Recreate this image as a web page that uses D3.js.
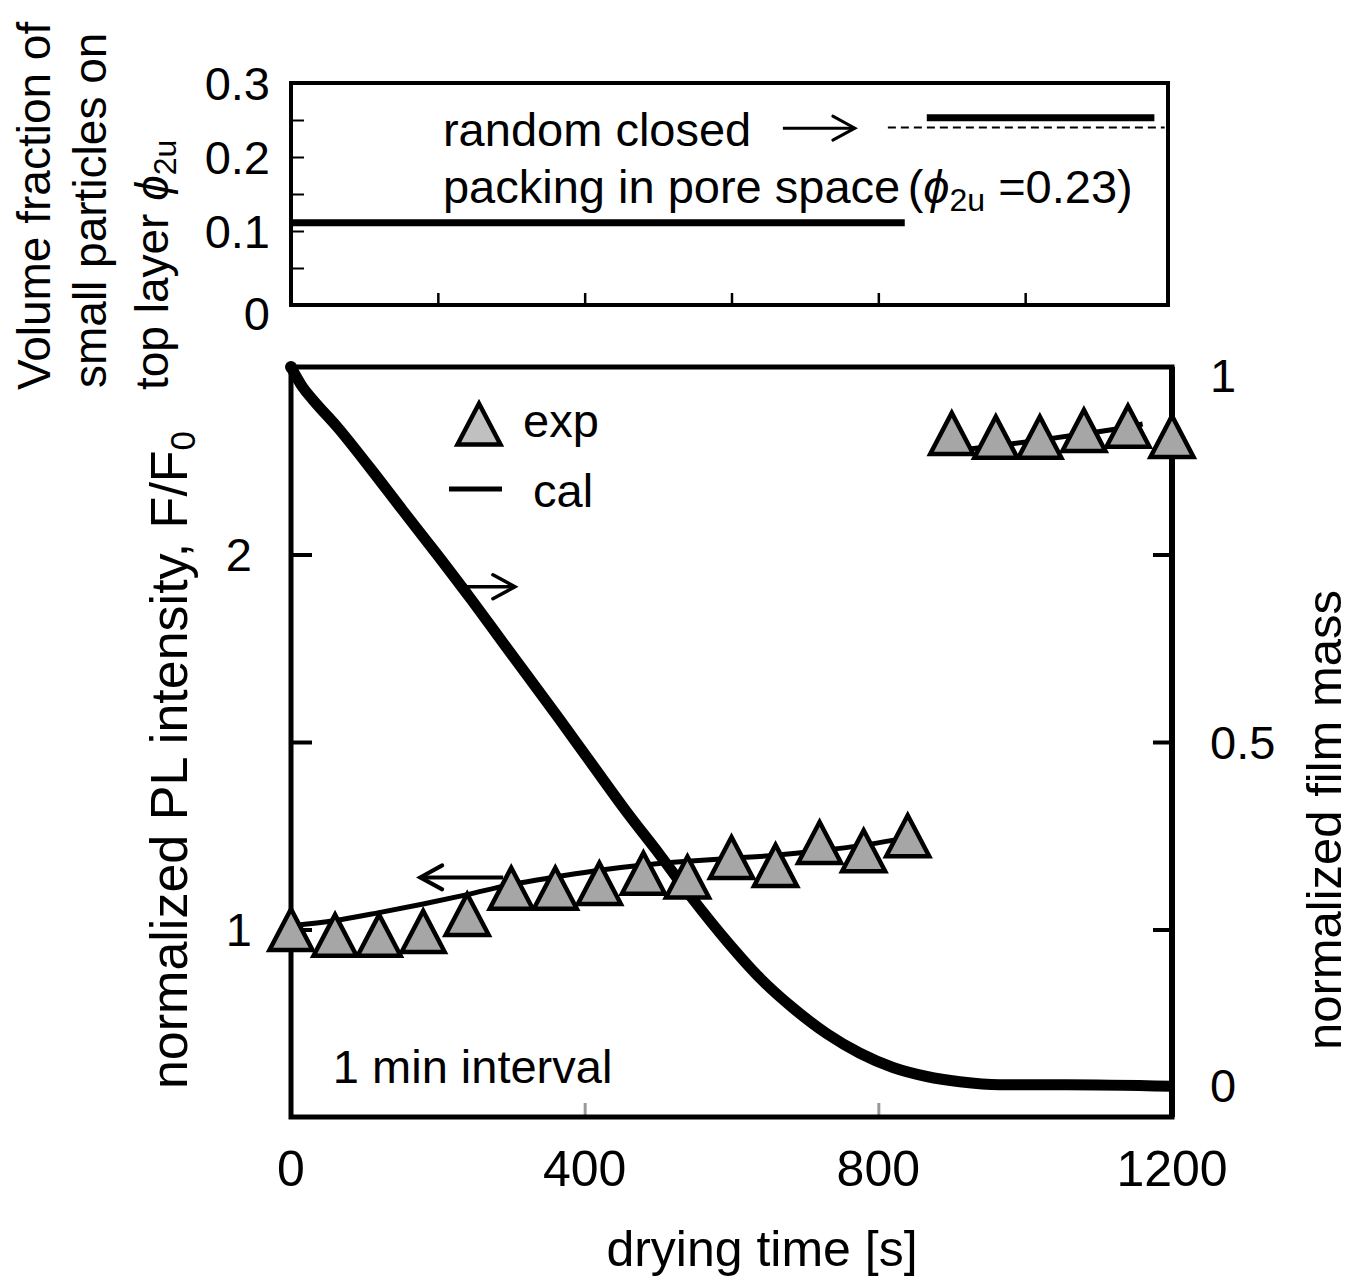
<!DOCTYPE html>
<html lang="en">
<head>
<meta charset="UTF-8">
<title>PL intensity and film mass during drying</title>
<style>
  body { margin: 0; background: #fff; }
  svg text { font-family: "Liberation Sans", Arial, sans-serif; fill: #000; }
</style>
</head>
<body>
<svg width="1354" height="1283"></svg>
<script src="https://d3js.org/d3.v7.min.js"></script>
<script>
// ---- data ----
// measured PL, one reading per minute
var expTime = [0, 60, 120, 180, 240, 300, 360, 420, 480, 540, 600, 660, 720, 780, 840,
               900, 960, 1020, 1080, 1140, 1200];
var expPL = [1.0, 0.985, 0.985, 0.995, 1.04, 1.11, 1.11, 1.123, 1.15, 1.14, 1.192, 1.171, 1.232, 1.21, 1.25,
             2.323, 2.313, 2.313, 2.331, 2.342, 2.315];

// calculated PL (two branches)
var calTimeA = [0, 60, 120, 180, 240, 300, 360, 420, 480, 540, 600, 660, 720, 780, 840];
var calPLA = [1.01, 1.024, 1.045, 1.068, 1.093, 1.12, 1.14, 1.158, 1.172, 1.182, 1.19, 1.198, 1.21, 1.225, 1.245];
var calTimeB = [900, 960, 1020, 1080, 1140, 1160];
var calPLB = [2.275, 2.29, 2.305, 2.322, 2.34, 2.348];

// calculated normalized film mass (right axis)
var massTime = [0, 16, 30, 63, 108, 152, 199, 244, 289, 366, 411, 457, 502, 547, 594, 639, 683, 730,
                775, 820, 866, 911, 965, 1056, 1200];
var massVal = [1.0, 0.973, 0.956, 0.92, 0.865, 0.809, 0.75, 0.692, 0.632, 0.53, 0.469, 0.407, 0.35,
               0.291, 0.234, 0.185, 0.146, 0.111, 0.085, 0.066, 0.054, 0.047, 0.043, 0.043, 0.041];

// volume fraction of small particles on top layer (top panel)
var phiTimeA = [0, 836], phiA = [0.111, 0.111];
var phiTimeB = [866, 1176], phiB = [0.253, 0.253];
var rcpTime = [813, 1190], rcpPhi = [0.24, 0.24];

var xTicks = [0, 400, 800, 1200];
var xTicksTop = [200, 400, 600, 800, 1000];
var leftTicks = [1, 1.5, 2], leftLabels = [1, 2];
var rightTicks = [0.25, 0.5, 0.75], rightLabels = [0, 0.5, 1];
var topTicks = [0.05, 0.1, 0.15, 0.2, 0.25], topLabels = [0, 0.1, 0.2, 0.3];

// ---- layout ----
var svg = d3.select("svg");
var L = 291, R = 1172, T = 367, B = 1117;
var tT = 83, tB = 305;

var x = d3.scaleLinear().domain([0, 1200]).range([L, R]);
var y = d3.scaleLinear().domain([0.5, 2.5]).range([B, T]);
var y2 = d3.scaleLinear().domain([0, 1]).range([B, T]);
var yt = d3.scaleLinear().domain([0, 0.3]).range([tB, tT]);

function lineOf(xs, ys, sy) {
  return d3.line().x(function(d, i) { return x(xs[i]); }).y(function(d, i) { return sy(ys[i]); })(xs);
}

function arrow(g, x0, x1, yy, w) {
  var dir = x1 > x0 ? 1 : -1;
  g.append("line").attr("x1", x0).attr("x2", x1).attr("y1", yy).attr("y2", yy)
    .attr("stroke", "#000").attr("stroke-width", w);
  g.append("path").attr("d", "M" + (x1 - dir * 22) + "," + (yy - 12) + "L" + x1 + "," + yy + "L" + (x1 - dir * 22) + "," + (yy + 12))
    .attr("fill", "none").attr("stroke", "#000").attr("stroke-width", w).attr("stroke-linecap", "round");
}

// ---- top panel ----
var topG = svg.append("g");
topG.append("g").attr("transform", "translate(" + L + ",0)")
  .call(d3.axisRight(yt).tickValues(topTicks).tickSize(13).tickFormat(""))
  .call(function(g) { g.select(".domain").remove(); g.selectAll("line").attr("stroke-width", 2); });
topG.append("g").attr("transform", "translate(0," + tB + ")")
  .call(d3.axisTop(x).tickValues(xTicksTop).tickSize(12).tickFormat(""))
  .call(function(g) { g.select(".domain").remove(); g.selectAll("line").attr("stroke-width", 2.5); });
topG.append("rect").attr("x", L).attr("y", tT).attr("width", R - 4 - L).attr("height", tB - tT)
  .attr("fill", "none").attr("stroke", "#000").attr("stroke-width", 4);

topG.selectAll("text.tl").data(topLabels).enter().append("text")
  .attr("x", 270).attr("y", function(d) { return yt(d) + (d === 0 ? 8 : 0); })
  .attr("dy", "0.36em").attr("text-anchor", "end").attr("font-size", 47)
  .text(function(d) { return d; });

topG.append("path").attr("d", lineOf(phiTimeA, phiA, yt)).attr("stroke", "#000").attr("stroke-width", 7);
topG.append("path").attr("d", lineOf(phiTimeB, phiB, yt)).attr("stroke", "#000").attr("stroke-width", 7);
topG.append("path").attr("d", lineOf(rcpTime, rcpPhi, yt)).attr("stroke", "#000").attr("stroke-width", 2)
  .attr("stroke-dasharray", "8,5");

topG.append("text").attr("x", x(207)).attr("y", 146).attr("font-size", 47).text("random closed");
topG.append("text").attr("x", x(207)).attr("y", 203).attr("font-size", 47).text("packing in pore space");
var eq = topG.append("text").attr("x", x(840)).attr("y", 203).attr("font-size", 47);
eq.append("tspan").text("(");
eq.append("tspan").attr("font-style", "italic").text("ϕ");
eq.append("tspan").attr("font-size", 32).attr("dy", 8).text("2u");
eq.append("tspan").attr("dy", -8).text(" =0.23)");

arrow(topG, x(670), x(768), yt(0.239), 3);

// top panel title
var tt = svg.append("g").attr("font-size", 46);
tt.append("text").attr("transform", "translate(50,390) rotate(-90)").text("Volume fraction of");
tt.append("text").attr("transform", "translate(106,388) rotate(-90)").text("small particles on");
var l3 = tt.append("text").attr("transform", "translate(168,390) rotate(-90)");
l3.append("tspan").text("top layer  ");
l3.append("tspan").attr("font-style", "italic").text("ϕ");
l3.append("tspan").attr("font-size", 32).attr("dy", 8).text("2u");

// ---- main panel ----
var main = svg.append("g");
main.append("g").attr("transform", "translate(" + L + ",0)")
  .call(d3.axisRight(y).tickValues(leftTicks).tickSize(21).tickFormat(""))
  .call(function(g) { g.select(".domain").remove(); g.selectAll("line").attr("stroke-width", 4); });
main.append("g").attr("transform", "translate(" + R + ",0)")
  .call(d3.axisLeft(y2).tickValues(rightTicks).tickSize(19).tickFormat(""))
  .call(function(g) { g.select(".domain").remove(); g.selectAll("line").attr("stroke-width", 4); });
main.append("g").attr("transform", "translate(0," + B + ")")
  .call(d3.axisTop(x).tickValues(xTicks).tickSize(14).tickFormat(""))
  .call(function(g) { g.select(".domain").remove(); g.selectAll("line").attr("stroke", "#999").attr("stroke-width", 3); });
main.append("rect").attr("x", L).attr("y", T).attr("width", R - L).attr("height", B - T)
  .attr("fill", "none").attr("stroke", "#000").attr("stroke-width", 5);
main.append("line").attr("x1", R).attr("x2", R).attr("y1", T).attr("y2", B)
  .attr("stroke", "#000").attr("stroke-width", 6);

main.selectAll("text.xl").data(xTicks).enter().append("text")
  .attr("x", function(d) { return x(d); }).attr("y", 1186).attr("text-anchor", "middle")
  .attr("font-size", 50).text(function(d) { return d; });
main.selectAll("text.yl").data(leftLabels).enter().append("text")
  .attr("x", 252).attr("y", function(d) { return y(d); }).attr("dy", "0.36em")
  .attr("text-anchor", "end").attr("font-size", 47).text(function(d) { return d; });
main.selectAll("text.y2l").data(rightLabels).enter().append("text")
  .attr("x", 1210).attr("y", function(d) { return y2(d) + (d === 1 ? 8 : d === 0 ? -32 : 0); })
  .attr("dy", "0.36em").attr("font-size", 47).text(function(d) { return d; });

main.append("text").attr("x", 762).attr("y", 1266).attr("text-anchor", "middle").attr("font-size", 50)
  .text("drying time [s]");
var yl = main.append("text").attr("transform", "translate(187,760) rotate(-90)")
  .attr("text-anchor", "middle").attr("font-size", 52);
yl.append("tspan").text("normalized PL intensity, F/F");
yl.append("tspan").attr("font-size", 35).attr("dy", 8).text("0");
main.append("text").attr("transform", "translate(1341,820) rotate(-90)")
  .attr("text-anchor", "middle").attr("font-size", 49).text("normalized film mass");

// film mass curve
main.append("path").attr("d", d3.line().curve(d3.curveMonotoneX)
    .x(function(d, i) { return x(massTime[i]); }).y(function(d, i) { return y2(massVal[i]); })(massTime))
  .attr("fill", "none").attr("stroke", "#000").attr("stroke-width", 11).attr("stroke-linejoin", "round");
main.append("circle").attr("cx", x(0)).attr("cy", y2(1)).attr("r", 6).attr("fill", "#000");

// calculated PL
[[calTimeA, calPLA], [calTimeB, calPLB]].forEach(function(s) {
  main.append("path").attr("d", d3.line().curve(d3.curveMonotoneX)
      .x(function(d, i) { return x(s[0][i]); }).y(function(d, i) { return y(s[1][i]); })(s[0]))
    .attr("fill", "none").attr("stroke", "#000").attr("stroke-width", 5);
});

// measured PL triangles
var tri = "M0,-20.5L21.5,20.5L-21.5,20.5Z";
main.selectAll("path.exp").data(expTime).enter().append("path")
  .attr("d", tri)
  .attr("transform", function(d, i) { return "translate(" + x(d) + "," + y(expPL[i]) + ")"; })
  .attr("fill", "#a6a6a6").attr("stroke", "#000").attr("stroke-width", 4.5).attr("stroke-linejoin", "miter");

// axis-direction arrows
arrow(main, x(230), x(305), y2(0.707), 3.5);
arrow(main, x(289), x(176), y(1.139), 4);

// legend
main.append("path").attr("d", tri).attr("transform", "translate(479,424)")
  .attr("fill", "#c0c0c0").attr("stroke", "#000").attr("stroke-width", 4.5);
main.append("text").attr("x", 523).attr("y", 437).attr("font-size", 47).text("exp");
main.append("line").attr("x1", 449).attr("x2", 502).attr("y1", 489).attr("y2", 489)
  .attr("stroke", "#000").attr("stroke-width", 5);
main.append("text").attr("x", 533).attr("y", 507).attr("font-size", 47).text("cal");

main.append("text").attr("x", x(57)).attr("y", 1083).attr("font-size", 47).text("1 min interval");
</script>
</body>
</html>
